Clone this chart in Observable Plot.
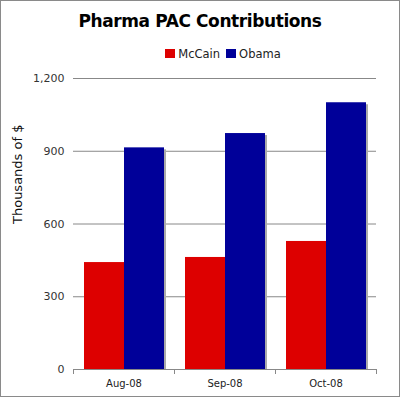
<!DOCTYPE html>
<html><head><meta charset="utf-8">
<script src="https://cdn.jsdelivr.net/npm/d3@7"></script>
<script src="https://cdn.jsdelivr.net/npm/@observablehq/plot@0.6"></script>
<style>
body{margin:0;background:#fff;}
#wrap{width:400px;height:397px;box-sizing:border-box;border:1px solid #8a8a8a;font-family:"DejaVu Sans",Verdana,sans-serif;overflow:hidden;}
#title{height:40px;line-height:40px;text-align:center;font-weight:bold;font-size:17px;color:#000;letter-spacing:-0.4px;}
#legend{height:24px;line-height:24px;display:flex;justify-content:center;align-items:center;font-size:11.5px;color:#222;padding-left:46px;box-sizing:border-box;padding-top:1px;}
#legend span.sw{display:inline-block;width:10px;height:9px;margin-right:3px;}
#legend span.item{display:inline-flex;align-items:center;margin-right:6px;}
#legend span.item:last-child{margin-right:0;}
svg{display:block;}
</style></head>
<body><div id="wrap"><div id="title">Pharma PAC Contributions</div><div id="legend"></div><div id="chart"></div></div>
<script>
const months = ["Aug-08", "Sep-08", "Oct-08"];
const seriesNames = ["McCain", "Obama"];
const mccain = [441, 462, 528];
const obama = [914, 973, 1100];
const colors = ["#dd0000", "#000099"];
const yTicks = [0, 300, 600, 900, 1200];

const data = [];
months.forEach((m, i) => {
  data.push({month: m, series: seriesNames[0], value: mccain[i]});
  data.push({month: m, series: seriesNames[1], value: obama[i]});
});

const legend = document.getElementById("legend");
seriesNames.forEach((s, i) => {
  const it = document.createElement("span"); it.className = "item";
  const sw = document.createElement("span"); sw.className = "sw"; sw.style.background = colors[i];
  it.appendChild(sw); it.appendChild(document.createTextNode(s));
  legend.appendChild(it);
});

const W = 398, H = 331, mT = 13, mB = 27, mL = 71, mR = 23;
const plotH = H - mT - mB;

const chart = Plot.plot({
  width: W, height: H,
  marginTop: mT, marginBottom: mB, marginLeft: mL, marginRight: mR,
  style: {fontFamily: "DejaVu Sans, Verdana, sans-serif", background: "#fff"},
  fx: {domain: months, padding: 0, label: null},
  x: {domain: seriesNames, paddingInner: 0, paddingOuter: 0.25, axis: null},
  y: {domain: [0, 1200], label: null},
  color: {domain: seriesNames, range: colors},
  marks: [
    Plot.ruleY(yTicks, {stroke: "#888", strokeWidth: 1}),
    Plot.barY(data, {fx: "month", x: "series", y: "value", fill: "#aaa", dx: 2, dy: 2, insetBottom: 2}),
    Plot.barY(data, {fx: "month", x: "series", y: "value", fill: "series"}),
    Plot.frame({anchor: "left", stroke: "#888", insetTop: plotH, insetBottom: -4}),
    Plot.frame({anchor: "right", stroke: "#888", insetTop: plotH, insetBottom: -4}),
    Plot.axisY(yTicks, {anchor: "left", tickSize: 0, tickPadding: 9, tickFormat: d3.format(","), fontSize: 11, fill: "#333", label: null}),
    Plot.axisFx({anchor: "bottom", tickSize: 0, tickPadding: 10, fontSize: 10, fill: "#222", label: null}),
    Plot.text(["Thousands of $"], {frameAnchor: "left", dx: -56, rotate: -90, fontSize: 13, fill: "#111", facet: "super"})
  ]
});
document.getElementById("chart").appendChild(chart);
</script></body></html>
